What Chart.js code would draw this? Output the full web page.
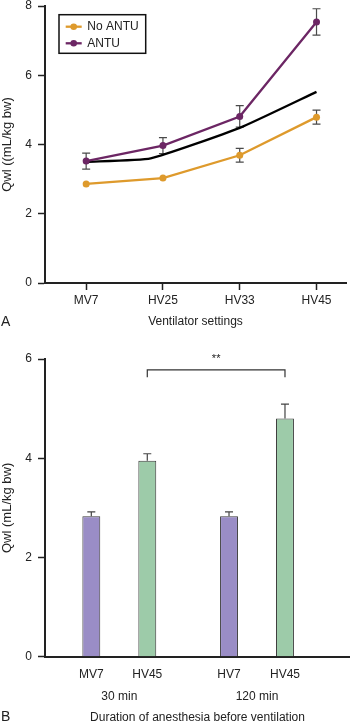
<!DOCTYPE html>
<html>
<head>
<meta charset="utf-8">
<script src="https://cdn.jsdelivr.net/npm/chart.js@4.4.0/dist/chart.umd.min.js"></script>
<style>
body { margin: 0; background: #fff; }
#wrapA { position: absolute; left: 0; top: 0; width: 350px; height: 340px; }
#wrapB { position: absolute; left: 0; top: 340px; width: 350px; height: 385px; }
</style>
</head>
<body>
<div id="wrapA"><canvas id="chartA"></canvas></div>
<div id="wrapB"><canvas id="chartB"></canvas></div>
<script>
// ** DATA: ** //

// panel A
var settings = ['MV7', 'HV25', 'HV33', 'HV45'];
var noAntu = [2.86, 3.03, 3.69, 4.79];
var noAntuErr = [0, 0, 0.2, 0.2];
var antu = [3.52, 3.97, 4.81, 7.54];
var antuErr = [0.23, 0.23, 0.31, 0.38];
var blackX = [0, 0.84, 2, 3];
var blackY = [3.5, 3.6, 4.48, 5.52];
var yTicksA = [0, 2, 4, 6, 8];

// panel B
var durations = ['30 min', '120 min'];
var lowLabels = ['MV7', 'HV7'];
var highLabels = ['HV45', 'HV45'];
var lowVent = [2.83, 2.83];
var lowErr = [0.09, 0.09];
var hv45 = [3.95, 4.8];
var hv45Err = [0.14, 0.29];
var yTicksB = [0, 2, 4, 6];

var ORANGE = '#DE9A2C';
var PURPLE = '#6C2664';
var BAR_PURPLE = '#9A8DC6';
var BAR_GREEN = '#9DCBA9';
var INK = '#222';

Chart.defaults.font.family = "'Liberation Sans', Arial, sans-serif";
Chart.defaults.font.size = 12;
Chart.defaults.color = INK;

// ** PLUGINS: ** //

var lineErrors = {
	id: 'lineErrors',
	beforeDatasetsDraw: function(chart) {
		var ctx = chart.ctx;
		var y = chart.scales.y;
		ctx.save();
		ctx.strokeStyle = '#4a4a4a';
		ctx.lineWidth = 1.2;
		chart.data.datasets.forEach(function(ds, i) {
			if (!ds.errors) return;
			var meta = chart.getDatasetMeta(i);
			for (var j = 0; j < ds.errors.length; j++) {
				var e = ds.errors[j];
				if (!e) continue;
				var v = ds.data[j].y;
				var x = meta.data[j].x;
				var top = y.getPixelForValue(v + e);
				var bot = y.getPixelForValue(v - e);
				ctx.beginPath();
				ctx.moveTo(x, top); ctx.lineTo(x, bot);
				ctx.moveTo(x - 4, top); ctx.lineTo(x + 4, top);
				ctx.moveTo(x - 4, bot); ctx.lineTo(x + 4, bot);
				ctx.stroke();
			}
		});
		ctx.restore();
	}
};

var legendBox = {
	id: 'legendBox',
	afterDraw: function(chart) {
		var ctx = chart.ctx, a = chart.chartArea;
		var x0 = a.left + 14, y0 = a.top + 8.7, w = 86.7, h = 38.6;
		ctx.save();
		ctx.fillStyle = '#fff';
		ctx.fillRect(x0, y0, w, h);
		ctx.strokeStyle = '#111';
		ctx.lineWidth = 1.5;
		ctx.strokeRect(x0, y0, w, h);
		var items = chart.data.datasets.filter(function(d) { return d.inLegend; });
		items.forEach(function(d, i) {
			var cy = y0 + 12 + i * 16.6;
			ctx.strokeStyle = d.borderColor;
			ctx.lineWidth = 2.3;
			ctx.beginPath();
			ctx.moveTo(x0 + 6.7, cy); ctx.lineTo(x0 + 22.7, cy);
			ctx.stroke();
			ctx.fillStyle = d.borderColor;
			ctx.beginPath();
			ctx.arc(x0 + 14.7, cy, 3.3, 0, Math.PI * 2);
			ctx.fill();
			ctx.fillStyle = INK;
			ctx.font = "12px 'Liberation Sans', Arial, sans-serif";
			ctx.textBaseline = 'middle';
			ctx.textAlign = 'left';
			ctx.fillText(d.label, x0 + 28.3, cy);
		});
		ctx.restore();
	}
};

function panelLetter(letter, yPos) {
	return {
		id: 'panelLetter' + letter,
		afterDraw: function(chart) {
			var ctx = chart.ctx;
			ctx.save();
			ctx.fillStyle = INK;
			ctx.font = "14px 'Liberation Sans', Arial, sans-serif";
			ctx.textBaseline = 'middle';
			ctx.textAlign = 'left';
			ctx.fillText(letter, 1, yPos);
			ctx.restore();
		}
	};
}

var barExtras = {
	id: 'barExtras',
	afterDatasetsDraw: function(chart) {
		var ctx = chart.ctx, a = chart.chartArea;
		var y = chart.scales.y;
		ctx.save();
		// error bars, upward only
		ctx.strokeStyle = '#444';
		ctx.lineWidth = 1.2;
		chart.data.datasets.forEach(function(ds, i) {
			var meta = chart.getDatasetMeta(i);
			for (var j = 0; j < ds.errors.length; j++) {
				var bar = meta.data[j];
				var top = y.getPixelForValue(ds.data[j].y + ds.errors[j]);
				ctx.beginPath();
				ctx.moveTo(bar.x, bar.y); ctx.lineTo(bar.x, top);
				ctx.moveTo(bar.x - 4, top); ctx.lineTo(bar.x + 4, top);
				ctx.stroke();
			}
		});
		// labels under each bar
		ctx.fillStyle = INK;
		ctx.font = "12px 'Liberation Sans', Arial, sans-serif";
		ctx.textBaseline = 'middle';
		ctx.textAlign = 'center';
		chart.data.datasets.forEach(function(ds, i) {
			var meta = chart.getDatasetMeta(i);
			ds.barLabels.forEach(function(t, j) {
				ctx.fillText(t, meta.data[j].x, a.bottom + 17.6);
			});
		});
		// significance bracket between the two HV45 bars
		var m = chart.getDatasetMeta(1);
		var x1 = m.data[0].x, x2 = m.data[1].x;
		var yb = y.getPixelForValue(5.78), ye = y.getPixelForValue(5.63);
		ctx.strokeStyle = '#333';
		ctx.lineWidth = 1.2;
		ctx.beginPath();
		ctx.moveTo(x1, ye); ctx.lineTo(x1, yb); ctx.lineTo(x2, yb); ctx.lineTo(x2, ye);
		ctx.stroke();
		ctx.font = "11px 'Liberation Sans', Arial, sans-serif";
		ctx.fillText('**', (x1 + x2) / 2, yb - 11);
		ctx.restore();
	}
};

function fixYAxis(s) {
	s.width = 45;
	s.paddingTop = 0;
	s.paddingBottom = 0;
}

// ** PANEL A: ** //

new Chart(document.getElementById('chartA'), {
	type: 'line',
	data: {
		datasets: [
			{
				label: 'No ANTU', inLegend: true, errors: noAntuErr,
				data: noAntu.map(function(v, i) { return {x: i, y: v}; }),
				borderColor: ORANGE, backgroundColor: ORANGE,
				borderWidth: 2.3, pointRadius: 3.5, pointBorderWidth: 0
			},
			{
				label: 'ANTU', inLegend: true, errors: antuErr,
				data: antu.map(function(v, i) { return {x: i, y: v}; }),
				borderColor: PURPLE, backgroundColor: PURPLE,
				borderWidth: 2.3, pointRadius: 3.5, pointBorderWidth: 0
			},
			{
				label: 'Sum',
				data: blackX.map(function(x, i) { return {x: x, y: blackY[i]}; }),
				borderColor: '#000', borderWidth: 2.3, pointRadius: 0, tension: 0.15
			}
		]
	},
	options: {
		responsive: true, maintainAspectRatio: false, animation: false,
		layout: {padding: {top: 6, right: 0, left: 0, bottom: 0}},
		plugins: {legend: {display: false}, tooltip: {enabled: false}},
		scales: {
			x: {
				type: 'linear', min: -0.536, max: 3.384, bounds: 'data',
				afterBuildTicks: function(s) { s.ticks = settings.map(function(c, i) { return {value: i}; }); },
				afterFit: function(s) { s.height = 57; s.paddingLeft = 0; s.paddingRight = 0; },
				ticks: {callback: function(v) { return settings[v]; }, padding: 3, autoSkip: false, maxRotation: 0},
				grid: {drawOnChartArea: false, tickLength: 7, tickColor: INK, tickWidth: 1.5},
				border: {color: INK, width: 2},
				title: {display: true, text: 'Ventilator settings', padding: {top: 0, bottom: 11}}
			},
			y: {
				min: 0, max: 8,
				afterBuildTicks: function(s) { s.ticks = yTicksA.map(function(v) { return {value: v}; }); },
				afterFit: fixYAxis,
				ticks: {padding: 6},
				grid: {drawOnChartArea: false, tickLength: 7, tickColor: INK, tickWidth: 1.5},
				border: {color: INK, width: 2},
				title: {display: true, text: 'Qwl ((mL/kg bw)', font: {size: 13}, padding: {top: 0, bottom: 0}}
			}
		}
	},
	plugins: [lineErrors, legendBox, panelLetter('A', 322)]
});

// ** PANEL B: ** //

new Chart(document.getElementById('chartB'), {
	type: 'bar',
	data: {
		datasets: [
			{
				label: 'Low', barLabels: lowLabels, errors: lowErr,
				data: lowVent.map(function(v, i) { return {x: i, y: v}; }),
				backgroundColor: BAR_PURPLE, borderColor: '#3a3a3a', borderWidth: 1
			},
			{
				label: 'HV45', barLabels: highLabels, errors: hv45Err,
				data: hv45.map(function(v, i) { return {x: i, y: v}; }),
				backgroundColor: BAR_GREEN, borderColor: '#3a3a3a', borderWidth: 1
			}
		]
	},
	options: {
		responsive: true, maintainAspectRatio: false, animation: false,
		categoryPercentage: 0.813, barPercentage: 0.32,
		layout: {padding: {top: 19, right: 0, left: 0, bottom: 0}},
		plugins: {legend: {display: false}, tooltip: {enabled: false}},
		scales: {
			x: {
				type: 'linear', min: -0.5396, max: 1.6754, bounds: 'data', offset: false,
				afterBuildTicks: function(s) { s.ticks = durations.map(function(c, i) { return {value: i}; }); },
				afterFit: function(s) { s.height = 68.3; s.paddingLeft = 0; s.paddingRight = 0; },
				ticks: {callback: function(v) { return ['', durations[v]]; }, padding: 6.5, autoSkip: false, maxRotation: 0, font: {lineHeight: 1.85}},
				grid: {drawOnChartArea: false, drawTicks: false, offset: false},
				border: {color: INK, width: 2},
				title: {display: true, text: 'Duration of anesthesia before ventilation', padding: {top: 0, bottom: 0}}
			},
			y: {
				min: 0, max: 6,
				afterBuildTicks: function(s) { s.ticks = yTicksB.map(function(v) { return {value: v}; }); },
				afterFit: fixYAxis,
				ticks: {padding: 6},
				grid: {drawOnChartArea: false, tickLength: 7, tickColor: INK, tickWidth: 1.5},
				border: {color: INK, width: 2},
				title: {display: true, text: 'Qwl (mL/kg bw)', font: {size: 13}, padding: {top: 0, bottom: 0}}
			}
		}
	},
	plugins: [barExtras, panelLetter('B', 377)]
});
</script>
</body>
</html>
